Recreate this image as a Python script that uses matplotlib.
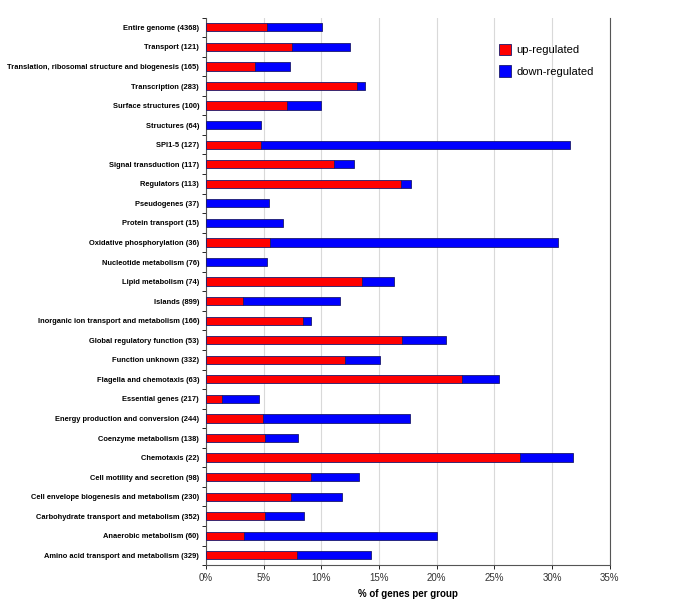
import numpy as np
import matplotlib
matplotlib.use('Agg')
import matplotlib.pyplot as plt
from matplotlib.ticker import FuncFormatter, FixedLocator

plt.rcParams['font.family'] = ['Liberation Sans', 'DejaVu Sans']

# top to bottom as in the chart
categories = ['Entire genome (4368)', 'Transport (121)',
              'Translation, ribosomal structure and biogenesis (165)', 'Transcription (283)',
              'Surface structures (100)', 'Structures (64)', 'SPI1-5 (127)',
              'Signal transduction (117)', 'Regulators (113)', 'Pseudogenes (37)',
              'Protein transport (15)', 'Oxidative phosphorylation (36)',
              'Nucleotide metabolism (76)', 'Lipid metabolism (74)', 'Islands (899)',
              'Inorganic ion transport and metabolism (166)', 'Global regulatory function (53)',
              'Function unknown (332)', 'Flagella and chemotaxis (63)', 'Essential genes (217)',
              'Energy production and conversion (244)', 'Coenzyme metabolism (138)',
              'Chemotaxis (22)', 'Cell motility and secretion (98)',
              'Cell envelope biogenesis and metabolism (230)',
              'Carbohydrate transport and metabolism (352)', 'Anaerobic metabolism (60)',
              'Amino acid transport and metabolism (329)']
up = [5.24, 7.45, 4.22, 13.07, 7.0, 0.0, 4.74, 11.12, 16.86, 0.0,
      0.0, 5.55, 0.0, 13.5, 3.21, 8.43, 16.97, 12.03, 22.2, 1.36,
      4.92, 5.06, 27.23, 9.11, 7.37, 5.12, 3.27, 7.87]
total = [10.06, 12.44, 7.29, 13.82, 10.0, 4.72, 31.54, 12.86, 17.75, 5.45,
         6.68, 30.53, 5.26, 16.25, 11.6, 9.05, 20.79, 15.1, 25.39, 4.6,
         17.64, 7.95, 31.8, 13.24, 11.77, 8.5, 20.0, 14.31]
down = [t - u for t, u in zip(total, up)]
xticks = [0, 5, 10, 15, 20, 25, 30, 35]

fig = plt.figure(figsize=(6.85, 6.07), dpi=100)
ax = fig.add_axes([0.301, 0.069, 0.589, 0.902])

y = np.arange(len(categories))
ax.barh(y, up, height=0.42, color='#ff0000', edgecolor='#1a1a6e', linewidth=0.6,
        label='up-regulated', zorder=3)
ax.barh(y, down, left=up, height=0.42, color='#0000ff', edgecolor='#1a1a6e',
        linewidth=0.6, label='down-regulated', zorder=3)

ax.set_ylim(len(categories) - 0.5, -0.5)
ax.set_yticks(y)
ax.set_yticklabels(categories, fontsize=5.4, fontweight='bold')
ax.tick_params(axis='y', length=0, pad=5)
ax.yaxis.set_minor_locator(FixedLocator(np.arange(-0.5, len(categories), 1)))
ax.tick_params(axis='y', which='minor', length=3, width=0.6, direction='out')

ax.set_xlim(0, 35)
ax.set_xticks(xticks)
ax.xaxis.set_major_formatter(FuncFormatter(lambda v, p: '%d%%' % v))
ax.tick_params(axis='x', length=3, width=0.6, labelsize=7, labelcolor='#333333', pad=3)
ax.set_xlabel('% of genes per group', fontsize=7, fontweight='bold', labelpad=4)
ax.grid(axis='x', color='#d9d9d9', linewidth=0.8, zorder=0)

for side in ['top', 'right', 'bottom', 'left']:
    ax.spines[side].set_linewidth(0.8)
    ax.spines[side].set_color('#555555')
ax.spines['top'].set_visible(False)

leg = ax.legend(loc='upper left', bbox_to_anchor=(0.70, 0.97), frameon=False,
                fontsize=8, handlelength=1.1, handleheight=1.2, handletextpad=0.5,
                labelspacing=0.9)

fig.savefig('out.png', dpi=100)
